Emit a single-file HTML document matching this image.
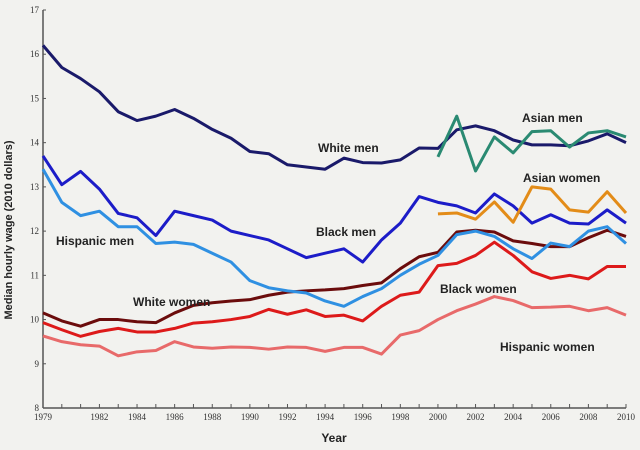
<!DOCTYPE html>
<html><head><meta charset="utf-8"><style>
html,body{margin:0;padding:0;background:#f2f2ef;}
svg{display:block;font-family:"Liberation Sans",sans-serif;}
.lab{font-weight:bold;font-size:12px;fill:#222;}
.tk{font-size:9px;fill:#333;font-family:"Liberation Serif",serif;}
</style></head><body>
<svg id="c" width="640" height="450">
<rect width="640" height="450" fill="#f2f2ef"/>
<g id="axes"></g><g id="lines"></g><g id="labels"></g>
</svg>
<script>
const years=[1979,1980,1981,1982,1983,1984,1985,1986,1987,1988,1989,1990,1991,1992,1993,1994,1995,1996,1997,1998,1999,2000,2001,2002,2003,2004,2005,2006,2007,2008,2009,2010];
const yTicks=[8,9,10,11,12,13,14,15,16,17];
const xTickLabels=[1979,1982,1984,1986,1988,1990,1992,1994,1996,1998,2000,2002,2004,2006,2008,2010];
const whiteMen=[16.2,15.7,15.45,15.15,14.7,14.5,14.6,14.75,14.55,14.3,14.1,13.8,13.75,13.5,13.45,13.4,13.65,13.55,13.54,13.61,13.88,13.87,14.29,14.38,14.27,14.06,13.95,13.95,13.93,14.04,14.2,14.0];
const blackMen=[13.7,13.05,13.35,12.95,12.4,12.3,11.9,12.45,12.35,12.25,12.0,11.9,11.8,11.6,11.4,11.5,11.6,11.3,11.8,12.18,12.78,12.65,12.57,12.41,12.84,12.57,12.18,12.37,12.18,12.16,12.48,12.18];
const hispanicMen=[13.4,12.65,12.35,12.45,12.1,12.1,11.72,11.75,11.7,11.5,11.3,10.88,10.72,10.65,10.6,10.42,10.3,10.52,10.7,11.0,11.25,11.45,11.92,12.0,11.88,11.6,11.38,11.73,11.65,12.0,12.1,11.72];
const whiteWomen=[10.15,9.97,9.85,10.0,10.0,9.95,9.93,10.15,10.32,10.38,10.42,10.45,10.55,10.62,10.65,10.67,10.7,10.77,10.83,11.15,11.42,11.52,11.98,12.02,11.98,11.78,11.72,11.65,11.65,11.85,12.02,11.88];
const blackWomen=[9.93,9.77,9.62,9.73,9.8,9.72,9.72,9.8,9.92,9.95,10.0,10.07,10.23,10.12,10.22,10.07,10.1,9.97,10.3,10.55,10.62,11.22,11.27,11.45,11.75,11.45,11.08,10.93,11.0,10.92,11.2,11.2];
const hispanicWomen=[9.63,9.5,9.43,9.4,9.18,9.27,9.3,9.5,9.38,9.35,9.38,9.37,9.33,9.38,9.37,9.28,9.37,9.37,9.22,9.65,9.75,10.0,10.2,10.35,10.52,10.43,10.27,10.28,10.3,10.2,10.27,10.1];
const asianYears=[2000,2001,2002,2003,2004,2005,2006,2007,2008,2009,2010];
const asianMen=[13.68,14.6,13.36,14.13,13.77,14.25,14.27,13.9,14.22,14.27,14.13];
const asianWomen=[12.39,12.41,12.27,12.66,12.2,13.0,12.95,12.48,12.43,12.89,12.41];

const NS="http://www.w3.org/2000/svg";
const X0=43,X1=626,Y0=408,Y1=10;
const xs=y=>X0+(y-1979)*(X1-X0)/(2010-1979);
const ys=v=>Y0-(v-8)*(Y0-Y1)/(17-8);
function mk(tag,attrs,parent){const e=document.createElementNS(NS,tag);for(const k in attrs)e.setAttribute(k,attrs[k]);parent.appendChild(e);return e;}
const axes=document.getElementById('axes'),lines=document.getElementById('lines'),labels=document.getElementById('labels');
let e=mk('line',{x1:X0,y1:Y1,x2:X0,y2:Y0,stroke:'#555','stroke-width':1.5},axes);


e=mk('line',{x1:X0,y1:Y0,x2:X1,y2:Y0,stroke:'#555','stroke-width':1.5},axes);


yTicks.forEach(v=>{
 mk('line',{x1:X0,y1:ys(v),x2:X0+3,y2:ys(v),stroke:'#555'},axes);
 const t=mk('text',{x:X0-4,y:ys(v)+3,'text-anchor':'end',class:'tk'},axes);t.textContent=v;
 
 
});
years.forEach(y=>{mk('line',{x1:xs(y),y1:Y0,x2:xs(y),y2:Y0-4,stroke:'#555'},axes);});
xTickLabels.forEach(y=>{
 const t=mk('text',{x:xs(y),y:Y0+12,'text-anchor':'middle',class:'tk'},axes);t.textContent=y;
 
 
});
e=mk('text',{x:334,y:442,'text-anchor':'middle',class:'lab','font-size':'11'},axes);e.textContent='Year';


e=mk('text',{x:0,y:0,'text-anchor':'middle',class:'lab',transform:'translate(12,230) rotate(-90)',style:'font-size:11px'},axes);e.textContent='Median hourly wage (2010 dollars)';


function series(xv,vals,color,name){
 const p=mk('polyline',{points:vals.map((v,i)=>xs(xv[i])+','+ys(v)).join(' '),fill:'none',stroke:color,'stroke-width':3,'stroke-linejoin':'round'},lines);
 
 
}
series(years,hispanicWomen,'#e86a6a','hispanic-women-line');
series(years,blackWomen,'#dd1a1a','black-women-line');
series(years,whiteWomen,'#6b0c0c','white-women-line');
series(years,hispanicMen,'#2f90e2','hispanic-men-line');
series(years,blackMen,'#1c1cc8','black-men-line');
series(asianYears,asianWomen,'#e38c18','asian-women-line');
series(years,whiteMen,'#1a1a6a','white-men-line');
series(asianYears,asianMen,'#2a8a72','asian-men-line');
[['White men',318,152,'white-men-label'],['Asian men',522,122,'asian-men-label'],['Asian women',523,182,'asian-women-label'],['Black men',316,236,'black-men-label'],['Hispanic men',56,245,'hispanic-men-label'],['White women',133,306,'white-women-label'],['Black women',440,293,'black-women-label'],['Hispanic women',500,351,'hispanic-women-label']].forEach(a=>{
 const t=mk('text',{x:a[1],y:a[2],class:'lab'},labels);t.textContent=a[0];
 
 
});
</script>
</body></html>
